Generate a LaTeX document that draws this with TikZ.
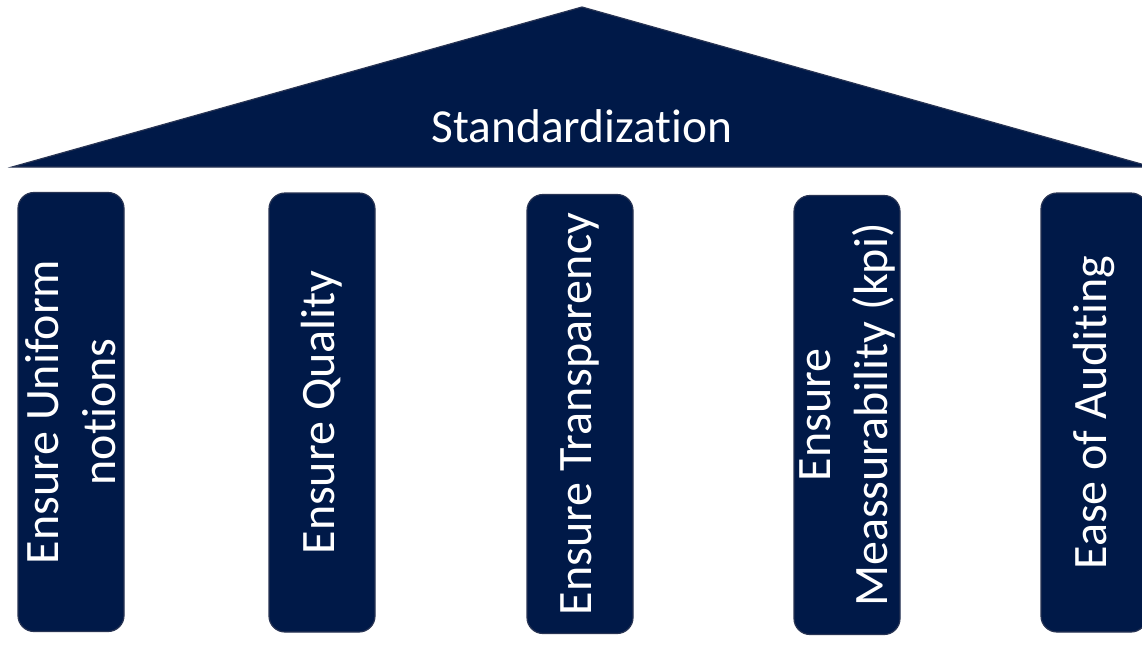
\documentclass[tikz,border=0pt]{standalone}
\usepackage{fontspec}
\setmainfont{Carlito}[Ligatures=NoCommon]
\usetikzlibrary{positioning}
\definecolor{navy}{RGB}{0,25,72}
\definecolor{rim}{RGB}{40,52,84}

\begin{document}
\begin{tikzpicture}[x=0.5pt, y=-0.5pt,
  pillar/.style={fill=navy, draw=rim, line width=0.6pt, rounded corners=8pt, rotate=90,
    minimum width=219.5pt, minimum height=53pt, inner sep=0pt, text=white, align=center,
    font=\fontsize{24}{28.5}\selectfont}]
\path[use as bounding box, fill=white] (0,0) rectangle (1142,659);
\clip (0,0) rectangle (1142,659);

% roof
\coordinate (eaveL) at (12,167);
\coordinate (apex) at (582,7);
\coordinate (eaveR) at (1152,167);
\fill[navy, draw=rim, line width=0.6pt] (eaveL) -- (apex) -- (eaveR) -- cycle;
\node[text=white, anchor=base, inner sep=0pt, font=\fontsize{23.7}{28}\selectfont] (roof) at (582,142) {Standardization};

% pillars
\node[pillar] (uniform) at (71,412) {Ensure Uniform\\notions};
\node[pillar] (quality) at (322,412.5) {Ensure Quality};
\node[pillar] (transparency) at (580,414) {Ensure Transparency};
\node[pillar] (kpi) at (847,415) {Ensure\\Meassurability (kpi)};
\node[pillar] (auditing) at (1094,412.5) {Ease of Auditing};

\end{tikzpicture}
\end{document}
